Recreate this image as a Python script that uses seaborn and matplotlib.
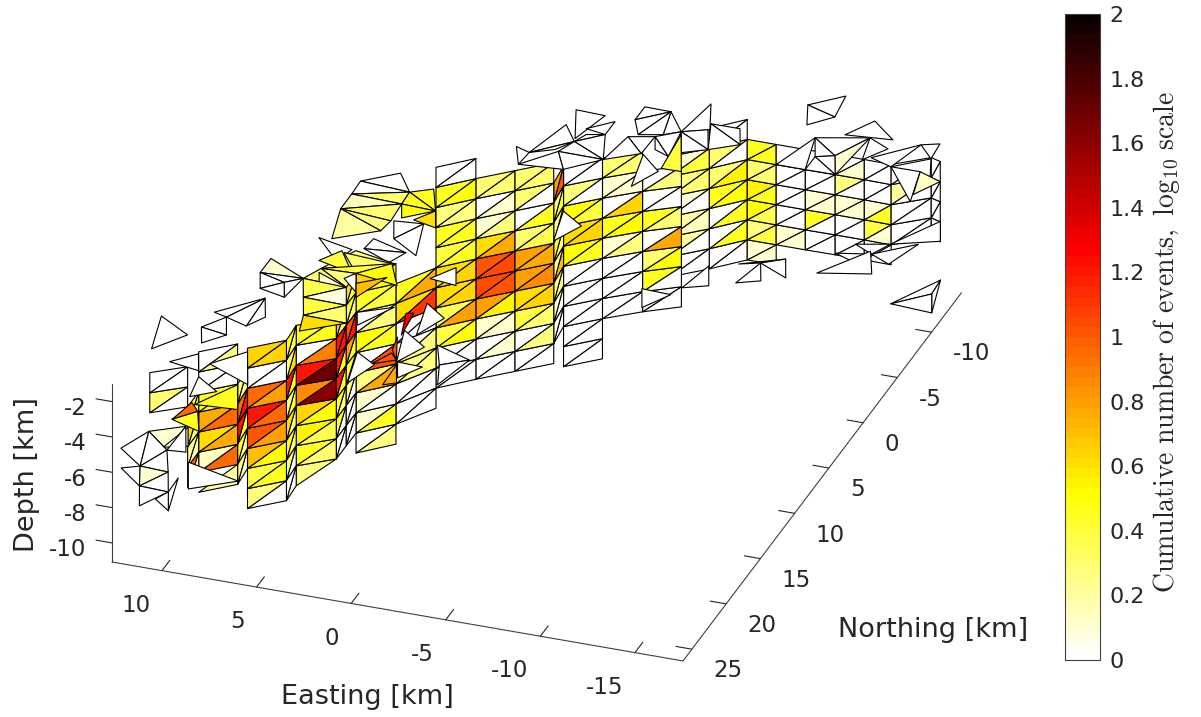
import numpy as np
import matplotlib
matplotlib.use("Agg")
import matplotlib.pyplot as plt
import seaborn as sns
from matplotlib.colors import Normalize
from matplotlib.cm import ScalarMappable
from mpl_toolkits.mplot3d.art3d import Poly3DCollection
from mpl_toolkits.mplot3d import proj3d

# column nodes of the fault mesh [km]
col_east = [12.24, 10.68, 10.69, 9.15, 9.25, 7.71, 7.78, 6.15, 6.15, 6.14, 4.59, 3.28, 1.73, 0.19, -1.35,
            -1.21, -2.75, -4.38, -6.02, -5.15, -6.69, -8.15, -9.68, -11.22, -12.79, -14.33, -15.76, -17.39, -17.95]
col_north = [21.89, 20.67, 19.03, 17.60, 15.88, 14.45, 12.83, 11.48, 10.05, 8.62, 7.08, 4.85, 3.31, 1.88, 0.45,
             -1.37, -2.80, -4.15, -5.29, -6.07, -7.50, -9.02, -9.02, -9.02, -9.04, -9.04, -9.01, -10.36, -10.13]
# depth of row k is depth_nodes[k + 6]
depth_nodes = [4.27, 3.13, 2.00, 0.86, -0.28, -1.41, -2.55, -3.69, -4.82, -5.96, -7.09, -8.23, -9.37, -10.50, -11.64, -12.77, -13.91]

W, C, L = 0.0, 0.1, 0.27
# (left column, right column, first row, [(upper, lower), ...]) log10 counts per triangle
strips = [
    (0, 1, 0, [(W, W), (0.3, W)]),
    (1, 2, 2, [(0.45, 0.45), (0.6, 0.3), (0.2, 0.2), (0.95, 0.3)]),
    (2, 3, 0, [(W, L), (W, W), (0.45, 0.45), (0.75, 0.95), (0.6, 0.75), (0.15, 0.95), (None, 0.2)]),
    (3, 4, 2, [(L, L), (0.95, 1.2), (1.2, 0.45), (0.45, L), (L, C)]),
    (4, 5, 1, [(0.65, 0.65), (W, W), (0.95, 0.8), (1.2, 0.95), (1.0, 0.8), (0.7, 0.5), (0.4, 0.45), (L, W)]),
    (5, 6, 1, [(0.5, L), (0.3, 0.6), (1.2, 0.45), (L, 0.45), (0.6, L), (0.45, L), (L, W), (W, W)]),
    (6, 7, 1, [(0.45, 0.45), (W, 0.9), (1.2, 1.7), (0.85, 1.6), (0.65, 0.5), (0.55, 0.35), (0.45, 0.3), (0.25, None)]),
    (7, 8, 1, [(0.6, L), (1.2, 1.2), (1.2, 0.45), (1.2, 0.45), (0.45, L), (0.45, W), (W, W)]),
    (8, 9, 0, [(0.6, 0.45), (0.45, L), (1.0, 1.2), (0.8, 0.45), (0.45, L), (L, W), (W, W), (W, W)]),
    (9, 10, 0, [(0.65, 0.5), (0.45, 0.4), (W, L), (0.5, 0.45), (W, 1.0), (L, 0.75), (C, W), (C, 0.45), (W, L)]),
    (10, 11, 1, [(0.45, 0.75), (0.6, 1.1), (W, W), (W, L), (L, L), (W, W), (W, W)]),
    (11, 12, -4, [(W, W), (0.45, 0.5), (L, L), (0.45, 0.45), (0.4, 0.45), (0.6, 0.65), (0.6, 0.65), (0.35, 0.8), (0.4, 0.5), (W, W), (W, W)]),
    (12, 13, -3, [(0.3, 0.3), (W, C), (C, L), (0.6, 0.75), (1.0, 1.05), (1.05, 1.0), (0.8, 0.55), (C, C), (W, C), (W, W)]),
    (13, 14, -3, [(0.3, 0.3), (0.3, W), (W, 0.45), (0.3, 0.35), (0.8, 0.75), (0.8, 0.85), (0.6, 0.65), (0.4, 0.3), (W, 0.25), (W, W)]),
    (14, 15, -2, [(0.8, 1.0), (L, 0.45), (L, L), (0.45, L), (L, 0.7), (L, L), (C, W), (W, W)]),
    (15, 16, -2, [(W, W), (L, W), (0.5, 0.4), (0.6, 0.65), (0.5, 0.45), (W, W), (W, W), (W, W), (W, W), (W, W)]),
    (16, 17, -2, [(0.3, 0.3), (C, C), (W, 0.65), (0.45, 0.5), (C, L), (W, W), (W, W), (W, W)]),
    (17, 18, -1, [(W, L), (W, W), (0.45, 0.3), (W, 0.75), (0.3, 0.5), (0.45, W), (W, W)]),
    (19, 20, -2, [(W, W), (C, 0.4), (0.25, 0.3), (0.08, W), (0.2, 0.15), (0.2, W), (W, W)]),
    (20, 21, -2, [(W, W), (0.3, W), (0.3, 0.55), (0.45, 0.5), (W, 0.45), (W, 0.45), (W, W)]),
    (21, 22, -1, [(0.45, 0.45), (0.3, 0.3), (0.55, 0.45), (0.5, 0.35), (L, 0.4), (C, C)]),
    (22, 23, -1, [(W, W), (W, W), (W, W), (W, W), (C, C)]),
    (23, 24, -1, [(W, W), (W, W), (C, C), (0.45, W), (W, W)]),
    (24, 25, -1, [(W, C), (0.25, W), (C, C), (W, W), (W, W)]),
    (25, 26, -1, [(W, W), (W, W), (C, 0.45), (0.4, C), (W, W)]),
    (26, 27, -1, [(W, W), (0.2, W), (W, W), (W, W)]),
    (27, 28, -1, [(W, W), (W, W), (W, W), (W, W)]),
]

# loose triangles off the main sheet, all at one depth: (e1, n1, e2, n2, e3, n3, value)
loose_depth = -2.55
loose = [
    (10.92, 29.75, 10.21, 27.63, 9.39, 31.17, W), (10.21, 27.63, 8.70, 29.16, 9.39, 31.17, W),
    (10.21, 27.63, 8.66, 26.52, 8.70, 29.16, C), (8.70, 29.16, 8.66, 26.52, 7.74, 29.04, W),
    (10.21, 31.68, 9.39, 31.17, 8.72, 33.12, W), (9.39, 31.17, 7.87, 31.28, 8.72, 33.12, C),
    (9.39, 31.17, 8.70, 29.16, 7.87, 31.28, W), (8.72, 33.12, 7.16, 33.22, 8.02, 35.06, W),
    (8.72, 33.12, 7.87, 31.28, 7.16, 33.22, W), (7.16, 33.22, 7.19, 31.69, 6.49, 35.06, W),
    (7.52, 34.12, 7.16, 33.22, 6.49, 35.06, W), (8.98, 28.94, 8.52, 26.58, 7.85, 28.42, W),
    (13.70, 16.16, 11.81, 17.56, 13.00, 19.53, W), (11.70, 20.48, 10.63, 19.23, 10.03, 20.87, W),
    (11.44, 16.56, 10.62, 15.17, 9.99, 16.91, W), (11.44, 16.56, 9.99, 16.91, 10.87, 18.11, W),
    (10.62, 15.17, 9.48, 12.67, 9.38, 15.70, W), (9.48, 12.67, 8.80, 14.51, 9.38, 15.70, W),
    (11.36, 14.89, 9.48, 12.67, 10.62, 15.17, W), (9.76, 20.01, 8.41, 18.20, 7.24, 21.40, W),
    (9.53, 23.55, 8.44, 22.60, 9.81, 21.46, W), (9.01, 24.23, 7.71, 21.57, 6.83, 24.00, 0.45),
    (9.55, 26.07, 9.22, 24.09, 8.63, 24.86, 0.95), (9.55, 26.07, 8.63, 24.86, 7.87, 26.79, 0.45),
    (10.62, 10.24, 10.61, 8.69, 8.40, 10.09, C), (10.62, 10.24, 8.40, 10.09, 9.15, 10.80, W),
    (10.62, 10.24, 9.15, 10.80, 10.06, 11.79, W), (10.06, 11.79, 9.15, 10.80, 8.62, 12.25, W),
    (9.15, 10.80, 8.40, 10.09, 8.62, 12.25, W), (8.40, 10.09, 7.92, 8.82, 6.07, 10.24, 0.3),
    (8.40, 10.09, 6.07, 10.24, 7.73, 11.93, 0.35), (6.07, 10.24, 5.44, 11.99, 7.73, 11.93, 0.08),
    (7.73, 11.93, 5.44, 11.99, 7.09, 13.68, 0.4), (5.44, 11.99, 4.80, 13.73, 7.09, 13.68, 0.3),
    (7.09, 13.68, 4.80, 13.73, 6.72, 15.30, 0.6), (7.92, 8.82, 6.92, 6.49, 4.68, 7.11, 0.3),
    (7.92, 8.82, 4.68, 7.11, 6.11, 8.71, 0.4), (7.92, 8.82, 6.11, 8.71, 6.07, 10.24, 0.27),
    # roof and wedge above the bend
    (9.16, -0.38, 7.57, -1.83, 6.48, -0.13, W), (9.16, -0.38, 6.48, -0.13, 9.12, 1.03, W),
    (9.12, 1.03, 6.48, -0.13, 6.43, 1.16, 0.3), (9.12, 1.03, 6.43, 1.16, 9.11, 2.66, 0.15),
    (9.11, 2.66, 6.43, 1.16, 6.34, 2.99, 0.3), (6.48, -0.13, 4.60, 1.27, 6.43, 1.16, 0.45),
    (6.48, -0.13, 5.46, -0.84, 4.60, 1.27, 0.45), (6.43, 1.16, 4.60, 1.27, 5.94, 2.52, 0.5),
    (5.31, 2.51, 4.60, 1.27, 4.00, 2.92, 0.6), (9.11, 2.66, 6.34, 2.99, 6.46, 4.13, 0.27),
    (9.11, 2.66, 6.46, 4.13, 8.47, 5.73, 0.2), (6.20, 2.94, 4.70, 2.73, 5.57, 4.68, W),
    (5.57, 4.68, 4.70, 2.73, 3.94, 5.96, W), (6.61, 6.16, 6.51, 5.02, 4.51, 5.84, W),
    (6.61, 6.16, 4.51, 5.84, 4.96, 7.10, W), (9.11, 5.84, 7.14, 6.46, 7.50, 7.79, W),
    (7.41, 6.88, 4.78, 7.15, 6.11, 8.71, 0.3), (8.30, 8.07, 7.57, 6.73, 6.29, 8.78, 0.4),
    (6.11, 8.71, 4.78, 7.15, 3.77, 9.19, 0.5), (5.76, 9.68, 4.52, 8.58, 5.26, 11.04, 0.7),
    (6.49, 9.40, 6.11, 8.71, 5.44, 10.56, W), (7.87, 9.24, 6.07, 10.24, 6.88, 11.95, C),
    (4.68, 12.49, 3.13, 11.37, 4.22, 13.75, W),
    (2.19, 17.29, 1.64, 15.88, 1.16, 16.48, 1.0), (1.71, 15.58, 1.93, 14.23, 1.16, 16.48, 1.0),
    (0.93, 19.14, 0.99, 16.96, 0.35, 18.71, 0.75), (2.36, 11.75, 1.99, 11.62, 1.81, 13.97, 1.3),
    (1.04, 16.65, -0.30, 16.72, 0.48, 18.20, W), (-0.23, 14.33, -2.25, 15.25, -1.02, 16.24, W),
    (-1.02, 16.24, -2.25, 15.25, -1.64, 18.21, W),
    # white arrows on top of the sheet
    (3.27, 16.36, 2.02, 17.33, 2.64, 19.53, W), (1.84, 13.44, 0.31, 14.75, 1.09, 16.67, W),
    (1.11, 13.71, 1.73, 10.43, 0.40, 11.60, W), (2.47, 7.96, 1.64, 6.45, 1.01, 8.20, W),
    (-1.97, 2.20, -1.38, -0.88, -2.75, 0.27, W), (-3.68, -4.45, -3.11, -7.76, -4.41, -6.36, W),
    # top band
    (3.10, -6.39, 2.29, -6.03, 2.38, -4.69, W), (2.29, -6.03, 1.55, -9.37, 0.57, -7.86, W),
    (2.29, -6.03, 0.57, -7.86, 1.18, -6.76, 0.12), (1.61, -10.99, 0.04, -10.90, 0.64, -8.16, W),
    (0.47, -9.32, -0.63, -10.49, -0.63, -9.06, W), (-0.63, -9.06, 0.26, -8.74, 0.57, -7.86, W),
    (0.57, -7.86, -0.63, -9.06, -1.42, -6.59, W), (0.57, -7.86, -1.42, -6.59, 0.97, -6.62, W),
    (0.97, -6.62, -1.42, -6.59, 0.10, -4.95, W), (2.38, -4.69, 0.97, -6.62, 0.10, -4.95, W),
    (-1.42, -6.59, -1.77, -9.24, -2.98, -7.81, W), (-1.77, -9.24, -3.03, -9.70, -2.98, -7.81, W),
    (-1.50, -11.01, -1.50, -12.44, -2.90, -12.40, W), (-1.50, -11.01, -2.90, -12.40, -2.17, -9.61, W),
    (-2.90, -12.40, -3.34, -10.03, -2.17, -9.61, W), (-2.90, -12.40, -4.08, -10.62, -3.34, -10.03, W),
    (-3.03, -9.70, -4.08, -10.62, -4.35, -7.98, W), (-3.03, -9.70, -4.35, -7.98, -3.49, -8.44, W),
    (-4.18, -10.33, -5.49, -6.74, -4.44, -6.70, 0.4),
    (-4.08, -10.62, -4.49, -13.84, -5.35, -11.30, W),
    (-5.19, -11.90, -6.72, -11.91, -7.29, -10.36, W), (-5.19, -11.90, -7.29, -10.36, -5.97, -9.33, W),
    (-4.08, -10.62, -5.26, -11.27, -5.97, -9.33, W), (-4.08, -10.62, -5.97, -9.33, -4.82, -8.58, W),
    # right end
    (-10.55, -12.30, -13.12, -13.22, -12.11, -10.88, W), (-10.55, -12.30, -12.11, -10.88, -11.22, -10.45, W),
    (-11.22, -10.45, -12.11, -10.88, -12.79, -9.04, W), (-11.21, -9.02, -11.22, -10.45, -12.79, -9.04, W),
    (-12.11, -10.88, -13.12, -13.22, -12.79, -9.04, C), (-13.12, -13.22, -14.35, -12.45, -13.53, -10.95, W),
    (-14.26, -13.41, -12.75, -14.94, -11.84, -13.09, W), (-9.68, -9.02, -10.55, -12.30, -11.21, -9.02, W),
    (-13.87, -11.30, -15.75, -13.40, -15.12, -10.75, W), (-15.75, -13.40, -16.60, -13.81, -16.71, -12.20, W),
    (-15.12, -10.75, -16.71, -12.20, -17.30, -10.45, W), (-15.12, -10.75, -16.66, -10.76, -17.25, -7.68, W),
    (-16.66, -10.76, -17.94, -10.13, -17.14, -8.41, 0.15), (-15.41, 0.88, -17.15, -2.16, -18.01, 0.04, W),
    (-15.58, -1.38, -17.30, -1.89, -16.61, -0.88, W), (-17.30, -1.89, -19.14, -3.65, -18.45, -1.20, W),
    (-16.20, -2.59, -17.83, -3.18, -17.30, -1.89, W), (-17.83, -3.18, -20.06, -4.31, -19.36, -6.25, W),
    (-9.05, -15.38, -10.51, -16.89, -10.74, -14.66, W), (-9.05, -15.38, -10.74, -14.66, -9.71, -13.42, W),
    (-19.95, 2.63, -21.44, -0.53, -21.52, 0.98, W), (-19.95, 2.63, -21.52, 0.98, -22.19, 2.83, W),
    (-21.52, 0.98, -21.44, -0.53, -22.19, 2.83, W), (-11.97, 3.21, -12.43, 0.85, -13.07, 2.59, W),
    (-11.44, 1.32, -13.46, 0.04, -12.43, 0.85, W), (-13.46, 0.04, -14.13, 1.88, -12.43, 0.85, W),
    (-9.63, 4.60, -10.11, 2.01, -10.81, 3.95, W), (-7.79, 5.37, -9.35, 5.46, -8.46, 7.21, W),
    (7.28, 29.97, 6.33, 32.59, 4.28, 30.98, W),
]

east_ticks = [-15, -10, -5, 0, 5, 10]
north_ticks = [-10, -5, 0, 5, 10, 15, 20, 25]
depth_ticks = [-10, -8, -6, -4, -2]
cbar_ticks = [0, 0.2, 0.4, 0.6, 0.8, 1, 1.2, 1.4, 1.6, 1.8, 2]

sns.set_theme(style="white")
plt.rcParams["text.color"] = "#262626"
plt.rcParams["mathtext.fontset"] = "cm"
plt.rcParams["axes.unicode_minus"] = False

cmap = sns.color_palette("hot_r", as_cmap=True).resampled(64)
norm = Normalize(0, 2)

polys, vals = [], []
def node(c, k):
    return (col_east[c], col_north[c], depth_nodes[k + 6])

for a, b, k0, rows in strips:
    for n, (up, lo) in enumerate(rows):
        k = k0 + n
        if up is not None:
            polys.append([node(a, k), node(b, k), node(a, k + 1)])
            vals.append(up)
        if lo is not None:
            polys.append([node(b, k), node(b, k + 1), node(a, k + 1)])
            vals.append(lo)

fig = plt.figure(figsize=(12.01, 7.17), dpi=100)
ax = fig.add_axes([0, 0, 1, 1], projection="3d", proj_type="ortho")
ax.computed_zorder = False
ax.set_xlim(-17.54, 12.64)
ax.set_ylim(-14.35, 26.3)
ax.set_zlim(-11.08, -1.03)
ax.set_box_aspect((30.18, 40.65, 10.05))
ax.view_init(elev=28.6, azim=109.9)

mesh = Poly3DCollection(polys, facecolors=cmap(norm(vals)), edgecolors="black", linewidths=0.8, zorder=2)
ax.add_collection3d(mesh, autolim=False)
loose_polys = [[(t[0], t[1], loose_depth), (t[2], t[3], loose_depth), (t[4], t[5], loose_depth)] for t in loose]
loose_vals = [t[6] for t in loose]
top = Poly3DCollection(loose_polys, facecolors=cmap(norm(loose_vals)), edgecolors="black", linewidths=0.8, zorder=3)
ax.add_collection3d(top, autolim=False)

for axis, ticks in ((ax.xaxis, east_ticks), (ax.yaxis, north_ticks), (ax.zaxis, depth_ticks)):
    axis.set_ticks(ticks)
    axis.set_pane_color((1, 1, 1, 0))
    axis.pane.set_edgecolor((1, 1, 1, 0))
    axis.line.set_color("#404040")
    axis.line.set_linewidth(0.8)
    axis._axinfo["tick"]["inward_factor"] = 0.0
    axis._axinfo["tick"]["outward_factor"] = 0.35
    axis._axinfo["tick"]["linewidth"] = {True: 0.8, False: 0.5}
    axis._axinfo["tick"]["color"] = "#404040"
ax.zaxis.set_ticks_position("upper")
# depth ticks and their labels only move along easting, away from the box
ax.zaxis._get_tickdir = lambda position: 0
ax.zaxis._axmask = lambda: [True, False, False]
ax.grid(False)
ax.tick_params(labelsize=16.5, colors="#262626")
ax.xaxis.set_tick_params(pad=8)
ax.yaxis.set_tick_params(pad=6)
ax.zaxis.set_tick_params(pad=9)
for t in ax.get_xticklabels():
    t.set_ha("right")
for t in ax.get_yticklabels():
    t.set_ha("left")
for t in ax.get_zticklabels():
    t.set_ha("right")


def corner_px(e, n, z):
    ax.apply_aspect()
    x, y, _ = proj3d.proj_transform(e, n, z, ax.get_proj())
    return ax.transData.transform((x, y))


# size and place the 3d box: left floor corner at (112, 562), front corner at (683, 662)
p0, p1 = corner_px(12.64, 26.3, -11.08), corner_px(-17.54, 26.3, -11.08)
s = 571.0 / (p1[0] - p0[0])
side = 717 * s
ax.set_position([0.5 - side / 1201 / 2, 0.5 - side / 717 / 2, side / 1201, side / 717])
p0 = corner_px(12.64, 26.3, -11.08)
pos = ax.get_position(original=True)
ax.set_position([pos.x0 + (112 - p0[0]) / 1201, pos.y0 + (717 - 562 - p0[1]) / 717, pos.width, pos.height])

fig.text(367 / 1201, 1 - 697 / 717, "Easting [km]", fontsize=19.5, ha="center", va="center")
fig.text(933 / 1201, 1 - 630 / 717, "Northing [km]", fontsize=19.5, ha="center", va="center")
fig.text(27 / 1201, 1 - 474 / 717, "Depth [km]", fontsize=19.5, rotation=90, ha="center", va="center")

cax = fig.add_axes([1065 / 1201, 1 - 660 / 717, 35 / 1201, 646 / 717])
cbar = fig.colorbar(ScalarMappable(norm=norm, cmap=cmap), cax=cax, ticks=cbar_ticks)
cbar.ax.set_yticklabels(["0", "0.2", "0.4", "0.6", "0.8", "1", "1.2", "1.4", "1.6", "1.8", "2"])
cbar.ax.tick_params(labelsize=16, direction="in", length=6, width=0.6, color="#404040", labelcolor="#262626", pad=7)
cbar.outline.set_edgecolor("#404040")
cbar.outline.set_linewidth(0.8)
cbar.set_label(r"$\mathrm{Cumulative\ number\ of\ events,\ log_{10}\ scale}$", fontsize=20, color="#262626", labelpad=4, y=0.492)

fig.savefig("out.png", dpi=100)
